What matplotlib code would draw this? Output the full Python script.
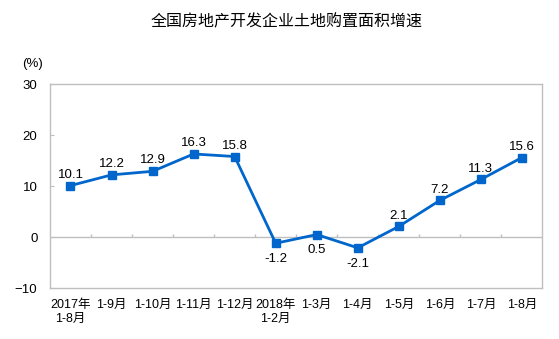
import matplotlib
matplotlib.use("Agg")
import matplotlib.pyplot as plt

plt.rcParams['font.family'] = ['Liberation Sans', 'Noto Sans CJK SC']

# data
months = ["2017年\n1-8月", "1-9月", "1-10月", "1-11月", "1-12月", "2018年\n1-2月",
          "1-3月", "1-4月", "1-5月", "1-6月", "1-7月", "1-8月"]
growth = [10.1, 12.2, 12.9, 16.3, 15.8, -1.2, 0.5, -2.1, 2.1, 7.2, 11.3, 15.6]
# which labels go under the point
label_below = [False, False, False, False, False, True, True, True, False, False, False, False]

line_color = "#0066CC"
grey = "#BFBFBF"

fig = plt.figure(figsize=(5.59, 3.39), dpi=100)
ax = fig.add_axes([0.0894, 0.150, 0.881, 0.602])

x = list(range(len(months)))
ax.plot(x, growth, color=line_color, linewidth=2, marker="s", markersize=5.5, zorder=3)

for i, v in enumerate(growth):
    if label_below[i]:
        ax.annotate(f"{v}", (i, v), xytext=(0, -7), textcoords="offset points",
                    ha="center", va="top", fontsize=9.5)
    else:
        ax.annotate(f"{v}", (i, v), xytext=(0, 3.5), textcoords="offset points",
                    ha="center", va="bottom", fontsize=9.5)

ax.set_xlim(-0.5, len(months) - 0.5)
ax.set_ylim(-10, 30)
ax.set_yticks([-10, 0, 10, 20, 30])
ax.set_xticks(x)
ax.set_xticklabels(months, fontsize=9, linespacing=1.2)
ax.tick_params(axis="x", length=0, pad=8)
ax.tick_params(axis="y", direction="in", length=3, color=grey, labelsize=9.5, pad=9)

for sp in ax.spines.values():
    sp.set_color(grey)
    sp.set_linewidth(1)

# category axis crossing at zero, ticks between categories
ax.axhline(0, color=grey, linewidth=1, zorder=1)
ax.vlines([i + 0.5 for i in x[:-1]], 0, 0.7, color=grey, linewidth=1, zorder=1)

fig.text(0.04, 0.812, "(%)", fontsize=9.5, ha="left", va="center")
fig.suptitle("全国房地产开发企业土地购置面积增速", x=0.513, y=0.96,
             fontsize=11.5, family=["Noto Sans CJK SC", "DejaVu Sans"])

fig.savefig("out.png", dpi=100)
